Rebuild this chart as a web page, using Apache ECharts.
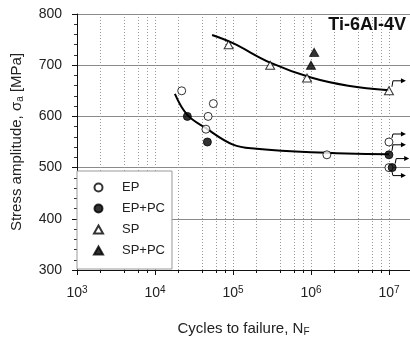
<!DOCTYPE html>
<html>
<head>
<meta charset="utf-8">
<script src="https://cdn.jsdelivr.net/npm/echarts@6/dist/echarts.min.js"></script>
<style>
  html, body { margin: 0; padding: 0; background: #fff; }
</style>
</head>
<body>
<div id="chart" style="width:410px;height:340px;"></div>
<script>
// measured points (N = cycles, S = stress amplitude MPa)
const epN = [22000, 45000, 48000, 56000, 1.6e6, 1e7, 1e7];
const epS = [650, 575, 600, 625, 525, 550, 500];
const eppcN = [26000, 47000, 1e7, 1.1e7];
const eppcS = [600, 550, 525, 500];
const spN = [88000, 3.0e5, 8.9e5, 1e7];
const spS = [740, 700, 675, 650];
const sppcN = [1.0e6, 1.1e6];
const sppcS = [700, 725];

// fitted curves
const fitSpN = [5.4e4, 1e5, 3e5, 1e6, 3e6, 1e7];
const fitSpS = [759, 743, 705, 676, 660, 651];
const fitEpN = [1.8e4, 2.6e4, 4.5e4, 1e5, 2e5, 1e6, 1e7];
const fitEpS = [644, 603, 577, 545, 537, 530, 526];

// run-outs (specimens that did not fail)
const runoutN = [1e7, 1e7, 1e7, 1.1e7, 1e7];
const runoutS = [650, 550, 525, 500, 500];
const arrowRise = [-10, -8, -10, -9, 8]; // px, direction of the little arrow

const decades = [3, 4, 5, 6, 7];
const minorMult = [2, 4, 6, 8];
const xMax = 7.27;

const pairs = (ns, ss) => ns.map((n, i) => [Math.log10(n), ss[i]]);

const minorPos = [];
decades.forEach(d => minorMult.forEach(m => {
  const v = d + Math.log10(m);
  if (v < xMax) minorPos.push([v, 300]);
}));

const font = 'Liberation Sans';
const txt = '#222';

let chart = echarts.init(document.getElementById('chart'));

let option = {
  animation: false,
  textStyle: { fontFamily: font, color: txt },
  grid: { left: 77, top: 14, right: 0, bottom: 70, outerBoundsMode: 'none' },
  graphic: [{
    type: 'text', right: 4, top: 16, z: 10,
    style: { text: 'Ti-6Al-4V', font: 'bold 18px "Liberation Sans"', fill: '#111' }
  }],
  legend: {
    orient: 'vertical',
    left: 77, top: 171,
    padding: [10, 7, 12, 16],
    itemWidth: 9, itemHeight: 8, itemGap: 8,
    backgroundColor: '#fff',
    borderColor: '#999', borderWidth: 1,
    textStyle: { fontSize: 13, color: txt, fontFamily: font, padding: [0, 0, 0, 14] },
    data: ['EP', 'EP+PC', 'SP', 'SP+PC']
  },
  xAxis: {
    type: 'value', min: 3, max: xMax, interval: 1,
    name: '{a|Cycles to failure, N}{b|F}',
    nameLocation: 'middle', nameGap: 51,
    nameTextStyle: {
      rich: {
        a: { fontSize: 15, color: txt, fontFamily: font },
        b: { fontSize: 10, color: txt, fontFamily: font, verticalAlign: 'bottom', padding: [6, 0, 0, 0] }
      }
    },
    axisLine: { lineStyle: { color: '#111', width: 1 } },
    axisTick: { length: 5, lineStyle: { color: '#111' } },
    axisLabel: {
      margin: 15, showMaxLabel: false,
      formatter: v => '{a|10}{b|' + v + '}',
      rich: {
        a: { fontSize: 14, color: txt, fontFamily: font },
        b: { fontSize: 10, color: txt, fontFamily: font, verticalAlign: 'top', padding: [0, 0, 6, 0] }
      }
    },
    splitLine: { show: true, lineStyle: { color: '#999', type: [1, 2], width: 1 } }
  },
  yAxis: {
    type: 'value', min: 300, max: 800, interval: 100,
    name: '{a|Stress amplitude, σ}{b|a}{a| [MPa]}',
    nameLocation: 'middle', nameGap: 52,
    nameTextStyle: {
      rich: {
        a: { fontSize: 15, color: txt, fontFamily: font },
        b: { fontSize: 10, color: txt, fontFamily: font, verticalAlign: 'bottom', padding: [6, 0, 0, 0] }
      }
    },
    axisLine: { show: true, lineStyle: { color: '#111', width: 1 } },
    axisTick: { show: true, length: 5, lineStyle: { color: '#111' } },
    minorTick: { show: true, splitNumber: 5, length: 3, lineStyle: { color: '#333' } },
    axisLabel: { fontSize: 14, color: txt, margin: 15 },
    splitLine: { show: true, lineStyle: { color: '#8a8a8a', width: 1 } }
  },
  series: [
    {
      // dotted minor gridlines + minor ticks on the log axis
      type: 'custom', silent: true, z: 1,
      data: minorPos,
      renderItem: (params, api) => {
        const cs = params.coordSys;
        const x = Math.round(api.coord([api.value(0), 300])[0]) + 0.5;
        const bottom = cs.y + cs.height;
        return {
          type: 'group',
          children: [
            { type: 'line', shape: { x1: x, y1: cs.y, x2: x, y2: bottom },
              style: { stroke: '#999', lineWidth: 1, lineDash: [1, 2] } },
            { type: 'line', shape: { x1: x, y1: bottom, x2: x, y2: bottom + 3 },
              style: { stroke: '#111', lineWidth: 1 } }
          ]
        };
      }
    },
    {
      type: 'line', data: pairs(fitSpN, fitSpS), smooth: 0.4, showSymbol: false,
      lineStyle: { color: '#000', width: 2 }, silent: true, z: 2
    },
    {
      type: 'line', data: pairs(fitEpN, fitEpS), smooth: 0.4, showSymbol: false,
      lineStyle: { color: '#000', width: 2 }, silent: true, z: 2
    },
    {
      // run-out arrows
      type: 'custom', silent: true, z: 3,
      data: pairs(runoutN, runoutS),
      renderItem: (params, api) => {
        const p = api.coord([api.value(0), api.value(1)]);
        const rise = arrowRise[params.dataIndex];
        const s = rise < 0 ? -1 : 1;
        const x0 = p[0] + 3, y0 = p[1] + s * 4;
        const x1 = p[0] + 4, y1 = p[1] + rise;
        const x2 = p[0] + 17;
        return {
          type: 'group',
          children: [
            { type: 'polyline', shape: { points: [[x0, y0], [x1, y1], [x2 - 4, y1]] },
              style: { stroke: '#000', lineWidth: 1, fill: null } },
            { type: 'polygon', shape: { points: [[x2, y1], [x2 - 5, y1 - 2.5], [x2 - 5, y1 + 2.5]] },
              style: { fill: '#000' } }
          ]
        };
      }
    },
    {
      name: 'EP', type: 'scatter', data: pairs(epN, epS), symbol: 'circle', symbolSize: 8, z: 4,
      itemStyle: { color: '#fff', borderColor: '#000', borderWidth: 1 }
    },
    {
      name: 'EP+PC', type: 'scatter', data: pairs(eppcN, eppcS), symbol: 'circle', symbolSize: 8, z: 4,
      itemStyle: { color: '#000', borderColor: '#000', borderWidth: 1 }
    },
    {
      name: 'SP', type: 'scatter', data: pairs(spN, spS), symbol: 'triangle', symbolSize: [9, 8], z: 4,
      itemStyle: { color: '#fff', borderColor: '#000', borderWidth: 1 }
    },
    {
      name: 'SP+PC', type: 'scatter', data: pairs(sppcN, sppcS), symbol: 'triangle', symbolSize: [9, 8], z: 4,
      itemStyle: { color: '#000', borderColor: '#000', borderWidth: 1 }
    }
  ]
};

chart.setOption(option);
window.addEventListener('resize', function() {
  chart.resize();
});
</script>
</body>
</html>
